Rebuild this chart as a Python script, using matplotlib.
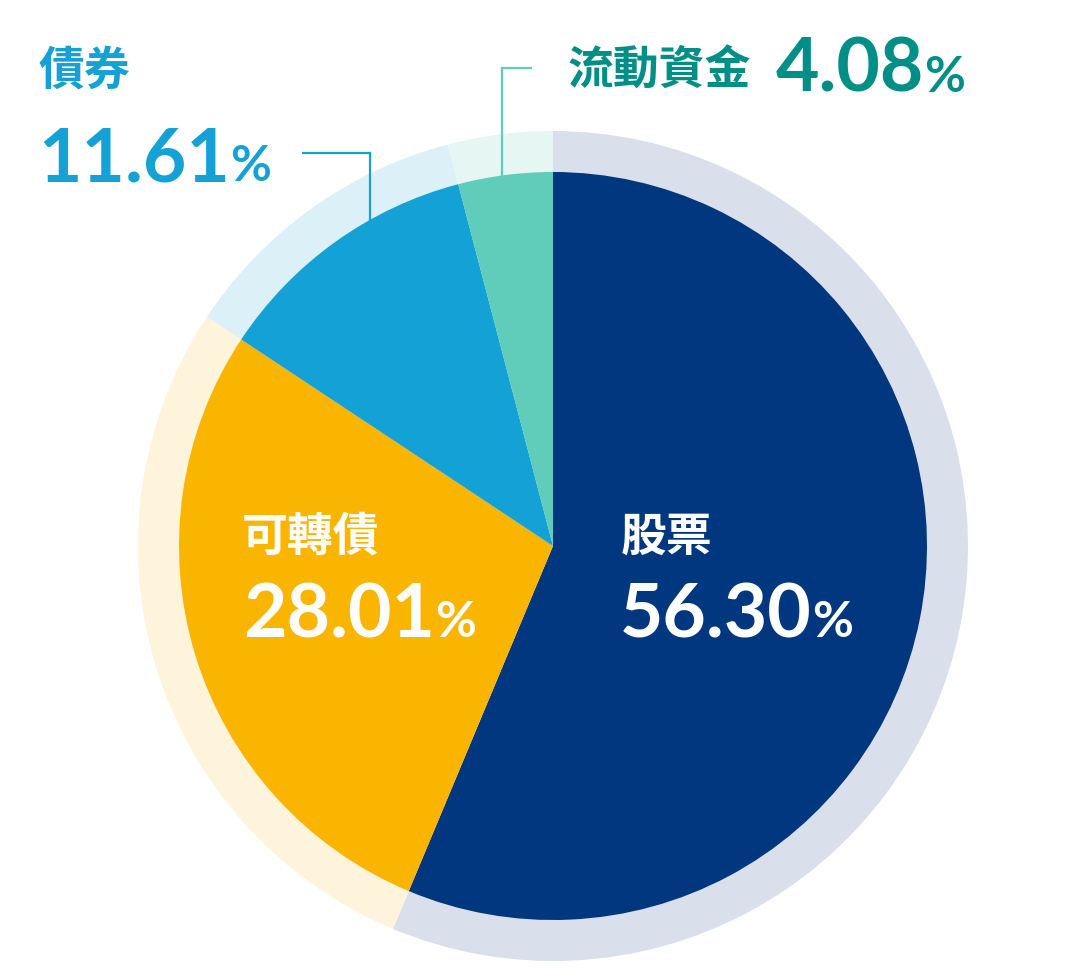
import matplotlib.pyplot as plt

# asset allocation
labels = ['股票', '可轉債', '債券', '流動資金']
values = [56.30, 28.01, 11.61, 4.08]
pct_text = ['56.30', '28.01', '11.61', '4.08']

colors = ['#00377F', '#F9B500', '#14A1D5', '#5FCDB9']
ring_colors = ['#D9E0EB', '#FEF4DC', '#DCF0F8', '#E6F6F3']
text_colors = ['white', 'white', '#14A1D5', '#008F87']

cjk = ['Noto Sans CJK TC', 'DejaVu Sans']
num_font = 'Lato'

fig = plt.figure(figsize=(10.8, 9.8), dpi=100)
ax = fig.add_axes([0, 0, 1, 1])

cx, cy = 553, 546
# outer light ring, then the solid pie on top
ax.pie(values, colors=ring_colors, startangle=-90, counterclock=True,
       radius=415, center=(cx, cy), wedgeprops={'linewidth': 0})
ax.pie(values, colors=colors, startangle=-90, counterclock=True,
       radius=374, center=(cx, cy), wedgeprops={'linewidth': 0})

ax.set_xlim(0, 1080)
ax.set_ylim(980, 0)
ax.set_aspect('equal')
ax.axis('off')

# leader lines
ax.plot([302, 370, 370], [153, 153, 225], color='#14A1D5', lw=1.6,
        solid_capstyle='butt', solid_joinstyle='miter')
ax.plot([532, 502, 502], [68, 68, 180], color='#5FCDB9', lw=1.6,
        solid_capstyle='butt', solid_joinstyle='miter')

# label positions: (name x, name baseline, number x, number baseline)
pos = [
    (621, 551, 620, 637),
    (242, 551, 243, 637),
    (39, 85, 38, 181),
    (568, 85, 776, 92),
]

fig.canvas.draw()
r = fig.canvas.get_renderer()
inv = ax.transData.inverted()

for lab, p, col, (lx, ly, nx, ny) in zip(labels, pct_text, text_colors, pos):
    ax.text(lx, ly, lab, color=col, fontsize=33, family=cjk, weight='bold',
            ha='left', va='baseline')
    t = ax.text(nx, ny, p, color=col, fontsize=54, family=num_font, weight='bold',
                ha='left', va='baseline')
    bb = t.get_window_extent(renderer=r)
    x1 = inv.transform((bb.x1, bb.y0))[0]
    ax.text(x1, ny, '%', color=col, fontsize=36, family=num_font, weight='bold',
            ha='left', va='baseline')

fig.savefig('out.png', dpi=100)
